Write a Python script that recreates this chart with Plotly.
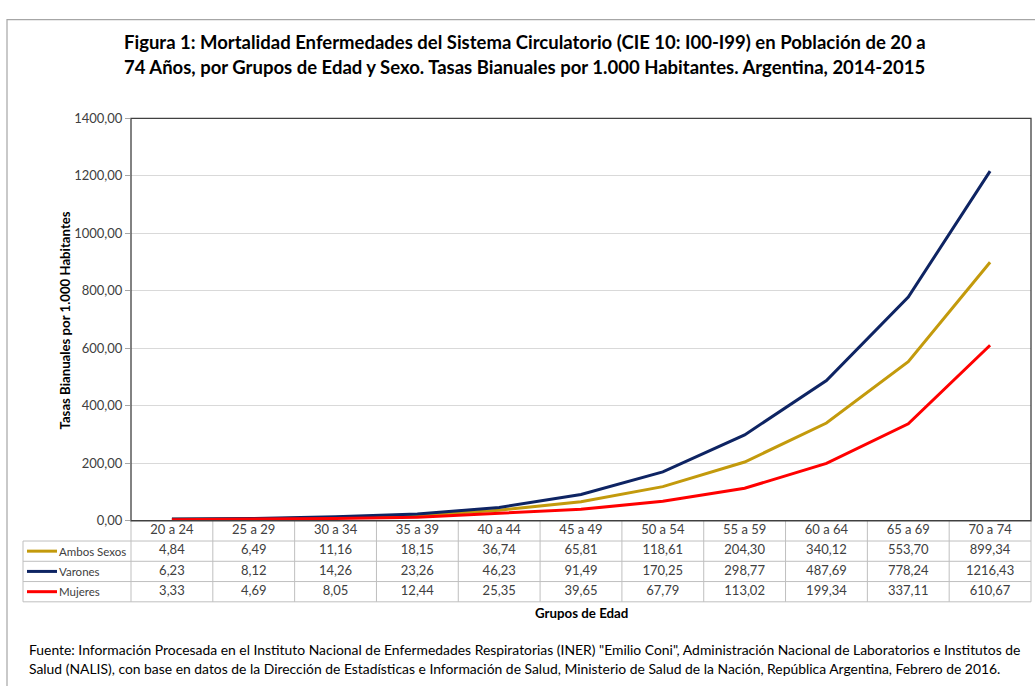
import plotly.graph_objects as go

# Age groups and biannual mortality rates per 1,000 inhabitants
grupos = ["20 a 24", "25 a 29", "30 a 34", "35 a 39", "40 a 44", "45 a 49",
          "50 a 54", "55 a 59", "60 a 64", "65 a 69", "70 a 74"]
ambos_sexos = [4.84, 6.49, 11.16, 18.15, 36.74, 65.81, 118.61, 204.30, 340.12, 553.70, 899.34]
varones = [6.23, 8.12, 14.26, 23.26, 46.23, 91.49, 170.25, 298.77, 487.69, 778.24, 1216.43]
mujeres = [3.33, 4.69, 8.05, 12.44, 25.35, 39.65, 67.79, 113.02, 199.34, 337.11, 610.67]

series_names = ["Ambos Sexos", "Varones", "Mujeres"]
series_values = [ambos_sexos, varones, mujeres]
series_colors = ["#C39A0C", "#0E2463", "#FF0000"]

y_ticks = [0, 200, 400, 600, 800, 1000, 1200, 1400]

TITLE_1 = "Figura 1: Mortalidad Enfermedades del Sistema Circulatorio (CIE 10: I00-I99) en Población de 20 a"
TITLE_2 = "74 Años, por Grupos de Edad y Sexo. Tasas Bianuales por 1.000 Habitantes. Argentina, 2014-2015"
Y_TITLE = "Tasas Bianuales por 1.000 Habitantes"
X_TITLE = "Grupos de Edad"
FUENTE_1 = ("Fuente: Información Procesada en el Instituto Nacional de Enfermedades Respiratorias (INER) "
            "\"Emilio Coni\", Administración Nacional de Laboratorios e Institutos de")
FUENTE_2 = ("Salud (NALIS), con base en datos de la Dirección de Estadísticas e Información de Salud, "
            "Ministerio de Salud de la Nación, República Argentina, Febrero de 2016.")

W, H = 1035, 686
FONT = "Lato, 'Open Sans', sans-serif"
TEXT_GREY = "#404040"
TABLE_LINE = "#BFBFBF"


def px(x):
    return x / W


def py(y):
    return 1 - y / H


# plot area and data table geometry (pixels)
PL, PR, PT, PB = 131, 1031, 113, 525
TABLE_LEFT, TABLE_BOTTOM = 23, 608
ROW_H = (TABLE_BOTTOM - PB) / 4
n = len(grupos)

fig = go.Figure()

# lines
for name, vals, col in zip(series_names, series_values, series_colors):
    fig.add_trace(go.Scatter(
        x=grupos, y=vals, name=name, mode="lines",
        line=dict(color=col, width=3), xaxis="x", yaxis="y",
        showlegend=False,
    ))

# data table: header row with the age groups, then one row per series
fig.add_trace(go.Scatter(
    x=grupos, y=[0.5] * n, mode="text", texttemplate="%{x}",
    textfont=dict(family=FONT, size=13, color=TEXT_GREY),
    xaxis="x", yaxis="y2", showlegend=False, cliponaxis=False,
))
for i, (name, vals) in enumerate(zip(series_names, series_values)):
    fig.add_trace(go.Scatter(
        x=grupos, y=[1.5 + i] * n, mode="text", customdata=vals,
        texttemplate="%{customdata:.2f}",
        textfont=dict(family=FONT, size=13, color=TEXT_GREY),
        xaxis="x", yaxis="y2", showlegend=False, cliponaxis=False,
    ))

shapes = []
# outer chart frame
shapes.append(dict(type="rect", xref="paper", yref="paper",
                   x0=px(7), x1=px(W + 10), y0=py(H + 10), y1=py(12),
                   line=dict(color="#A6A6A6", width=1.2), layer="below"))
# table grid
for k in range(1, 5):
    y = PB + k * ROW_H
    shapes.append(dict(type="line", xref="paper", yref="paper",
                       x0=px(TABLE_LEFT), x1=px(PR), y0=py(y), y1=py(y),
                       line=dict(color=TABLE_LINE, width=1)))
shapes.append(dict(type="line", xref="paper", yref="paper",
                   x0=px(TABLE_LEFT), x1=px(TABLE_LEFT), y0=py(PB + ROW_H), y1=py(TABLE_BOTTOM),
                   line=dict(color=TABLE_LINE, width=1)))
for k in range(n + 1):
    x = PL + k * (PR - PL) / n
    shapes.append(dict(type="line", xref="paper", yref="paper",
                       x0=px(x), x1=px(x), y0=py(PB), y1=py(TABLE_BOTTOM),
                       line=dict(color=TABLE_LINE, width=1)))
# legend keys in the row label column
for i, col in enumerate(series_colors):
    yc = PB + (1.5 + i) * ROW_H
    shapes.append(dict(type="line", xref="paper", yref="paper",
                       x0=px(27), x1=px(57), y0=py(yc), y1=py(yc),
                       line=dict(color=col, width=3)))
# plot area border
shapes.append(dict(type="rect", xref="paper", yref="paper",
                   x0=px(PL), x1=px(PR), y0=py(PB), y1=py(PT),
                   line=dict(color="#404040", width=1.3)))

annotations = []
for i, name in enumerate(series_names):
    yc = PB + (1.5 + i) * ROW_H
    annotations.append(dict(text=name, xref="paper", yref="paper", x=px(57), y=py(yc),
                            xanchor="left", yanchor="middle", showarrow=False,
                            font=dict(family=FONT, size=11.5, color=TEXT_GREY)))
annotations.append(dict(text="<b>" + TITLE_1 + "</b>", xref="paper", yref="paper",
                        x=px(122), y=py(35), xanchor="left", yanchor="middle", showarrow=False,
                        font=dict(family=FONT, size=18.5, color="#000000")))
annotations.append(dict(text="<b>" + TITLE_2 + "</b>", xref="paper", yref="paper",
                        x=px(122), y=py(60), xanchor="left", yanchor="middle", showarrow=False,
                        font=dict(family=FONT, size=18.5, color="#000000")))
annotations.append(dict(text="<b>" + Y_TITLE + "</b>", xref="paper", yref="paper",
                        x=px(65), y=py(320), xanchor="center", yanchor="middle", textangle=-90,
                        showarrow=False, font=dict(family=FONT, size=13.2, color="#000000")))
annotations.append(dict(text="<b>" + X_TITLE + "</b>", xref="paper", yref="paper",
                        x=px((PL + PR) / 2), y=py(619), xanchor="center", yanchor="middle",
                        showarrow=False, font=dict(family=FONT, size=13.3, color="#000000")))
annotations.append(dict(text=FUENTE_1, xref="paper", yref="paper",
                        x=px(27), y=py(657), xanchor="left", yanchor="middle", showarrow=False,
                        font=dict(family=FONT, size=13.9, color="#000000")))
annotations.append(dict(text=FUENTE_2, xref="paper", yref="paper",
                        x=px(27), y=py(676), xanchor="left", yanchor="middle", showarrow=False,
                        font=dict(family=FONT, size=13.9, color="#000000")))

fig.update_layout(
    width=W, height=H, autosize=False,
    margin=dict(l=0, r=0, t=0, b=0, pad=0),
    paper_bgcolor="white", plot_bgcolor="white",
    separators=",.",
    font=dict(family=FONT, color=TEXT_GREY),
    xaxis=dict(type="category", domain=[px(PL), px(PR)], range=[-0.5, n - 0.5],
               showgrid=False, showline=False, zeroline=False,
               showticklabels=False, ticks="", anchor="y"),
    yaxis=dict(domain=[py(PB), py(PT)], range=[0, 1400], tickvals=y_ticks,
               tickformat=".2f", showgrid=True, gridcolor="#D9D9D9", gridwidth=1,
               zeroline=False, showline=False, ticks="outside", ticklen=5,
               tickcolor="#A6A6A6", tickfont=dict(family=FONT, size=13, color=TEXT_GREY),
               anchor="x"),
    yaxis2=dict(domain=[py(TABLE_BOTTOM), py(PB)], range=[4, 0],
                showgrid=False, showline=False, zeroline=False,
                showticklabels=False, ticks="", anchor="x"),
    shapes=shapes, annotations=annotations,
    hovermode=False,
)

fig.write_html("out.html")
